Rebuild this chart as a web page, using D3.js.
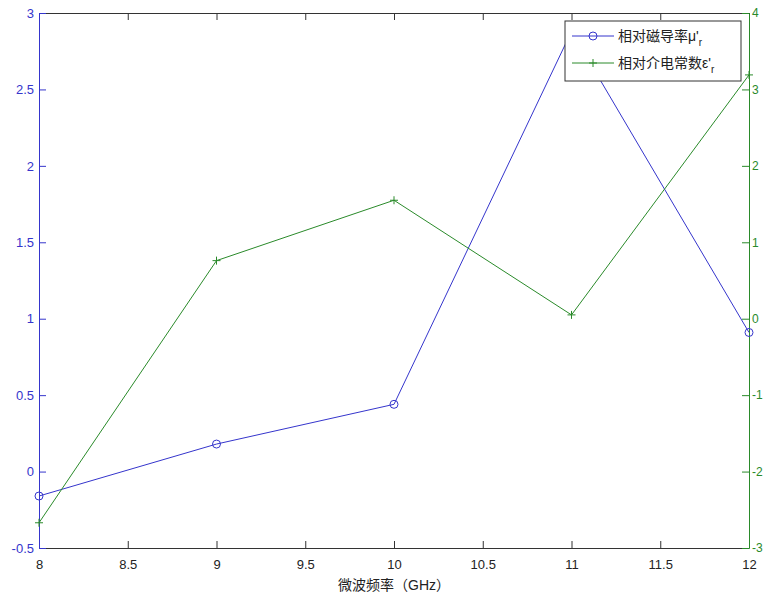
<!DOCTYPE html>
<html>
<head>
<meta charset="utf-8">
<script src="https://cdn.jsdelivr.net/npm/d3@7"></script>
<style>
  body { margin: 0; background: #fff; }
  svg text { font-family: "Liberation Sans", "Noto Sans CJK SC", sans-serif; }
</style>
</head>
<body>
<div id="chart"></div>
<script>
// data
var freqs = [8, 9, 10, 11, 12];
var mu = [-0.16, 0.18, 0.44, 2.88, 0.91];
var eps = [-2.67, 0.76, 1.55, 0.05, 3.19];
var xTicks = [8, 8.5, 9, 9.5, 10, 10.5, 11, 11.5, 12];
var leftTicks = [-0.5, 0, 0.5, 1, 1.5, 2, 2.5, 3];
var rightTicks = [-3, -2, -1, 0, 1, 2, 3, 4];
var legendLabels = ["相对磁导率μ'", "相对介电常数ε'"];

var blue = "#3535cc", green = "#2a8a2a";
var W = 764, H = 601;
var margin = {top: 13, right: 15, bottom: 53, left: 39},
    width = W - margin.left - margin.right,
    height = H - margin.top - margin.bottom;

// plain hyphen for negatives, like the original
var fmt = function (d) { return String(d); };

var svg = d3.select("#chart").append("svg")
    .attr("width", W).attr("height", H)
    .append("g")
    .attr("transform", "translate(" + margin.left + "," + margin.top + ")");

var x = d3.scaleLinear().domain([8, 12]).range([0, width]);
var yL = d3.scaleLinear().domain([-0.5, 3]).range([height, 0]);
var yR = d3.scaleLinear().domain([-3, 4]).range([height, 0]);

var tick = 7;
// bottom axis
var xb = svg.append("g").attr("transform", "translate(0," + height + ")")
    .call(d3.axisBottom(x).tickValues(xTicks).tickSizeInner(-tick).tickSizeOuter(0).tickPadding(12)
        .tickFormat(fmt));
// top axis
var xt = svg.append("g")
    .call(d3.axisTop(x).tickValues(xTicks).tickSizeInner(-tick).tickSizeOuter(0).tickFormat(""));
[xb, xt].forEach(function (a) {
    a.select(".domain").attr("stroke", "#333");
    a.selectAll(".tick line").attr("stroke", "#333");
});
xb.selectAll("text").attr("fill", "#222").style("font-size", "13px");

// left axis
var yl = svg.append("g")
    .call(d3.axisLeft(yL).tickValues(leftTicks).tickSizeInner(-tick).tickSizeOuter(0).tickPadding(5)
        .tickFormat(fmt));
yl.select(".domain").attr("stroke", blue);
yl.selectAll(".tick line").attr("stroke", blue);
yl.selectAll("text").attr("fill", blue).style("font-size", "13px");

// right axis
var yr = svg.append("g").attr("transform", "translate(" + width + ",0)")
    .call(d3.axisRight(yR).tickValues(rightTicks).tickSizeInner(-tick).tickSizeOuter(0).tickPadding(3)
        .tickFormat(fmt));
yr.select(".domain").attr("stroke", green);
yr.selectAll(".tick line").attr("stroke", green);
yr.selectAll("text").attr("fill", green).style("font-size", "12px");

// x label
svg.append("text")
    .attr("x", width / 2).attr("y", height + 42)
    .attr("text-anchor", "middle")
    .attr("fill", "#222")
    .style("font-size", "14px")
    .text("微波频率（GHz）");

// lines
var muData = freqs.map(function (f, i) { return {x: f, y: mu[i]}; });
var epsData = freqs.map(function (f, i) { return {x: f, y: eps[i]}; });

var lineL = d3.line().x(function (d) { return x(d.x); }).y(function (d) { return yL(d.y); });
var lineR = d3.line().x(function (d) { return x(d.x); }).y(function (d) { return yR(d.y); });

svg.append("path").datum(muData)
    .attr("fill", "none").attr("stroke", blue).attr("stroke-width", 1).attr("d", lineL);
svg.selectAll(".mu").data(muData).enter().append("circle")
    .attr("class", "mu")
    .attr("cx", function (d) { return x(d.x); })
    .attr("cy", function (d) { return yL(d.y); })
    .attr("r", 4).attr("fill", "none").attr("stroke", blue);

svg.append("path").datum(epsData)
    .attr("fill", "none").attr("stroke", green).attr("stroke-width", 1).attr("d", lineR);
var plus = svg.selectAll(".eps").data(epsData).enter().append("g")
    .attr("class", "eps")
    .attr("transform", function (d) { return "translate(" + x(d.x) + "," + yR(d.y) + ")"; });
plus.append("line").attr("x1", -4).attr("x2", 4).attr("stroke", green);
plus.append("line").attr("y1", -4).attr("y2", 4).attr("stroke", green);

// legend
var lg = svg.append("g").attr("transform", "translate(" + (565 - margin.left) + "," + (21 - margin.top) + ")");
lg.append("rect").attr("width", 176).attr("height", 60)
    .attr("fill", "#fff").attr("stroke", "#333");
var colors = [blue, green];
legendLabels.forEach(function (lab, i) {
    var row = lg.append("g").attr("transform", "translate(0," + (15 + i * 27) + ")");
    row.append("line").attr("x1", 7).attr("x2", 49).attr("stroke", colors[i]);
    if (i === 0) {
        row.append("circle").attr("cx", 28).attr("r", 4).attr("fill", "none").attr("stroke", colors[i]);
    } else {
        row.append("line").attr("x1", 24).attr("x2", 32).attr("stroke", colors[i]);
        row.append("line").attr("x1", 28).attr("x2", 28).attr("y1", -4).attr("y2", 4).attr("stroke", colors[i]);
    }
    var t = row.append("text").attr("x", 53).attr("y", 5)
        .attr("fill", "#222").style("font-size", "14px");
    t.append("tspan").text(lab);
    t.append("tspan").attr("dy", 5).style("font-size", "10px").text("r");
});
</script>
</body>
</html>
